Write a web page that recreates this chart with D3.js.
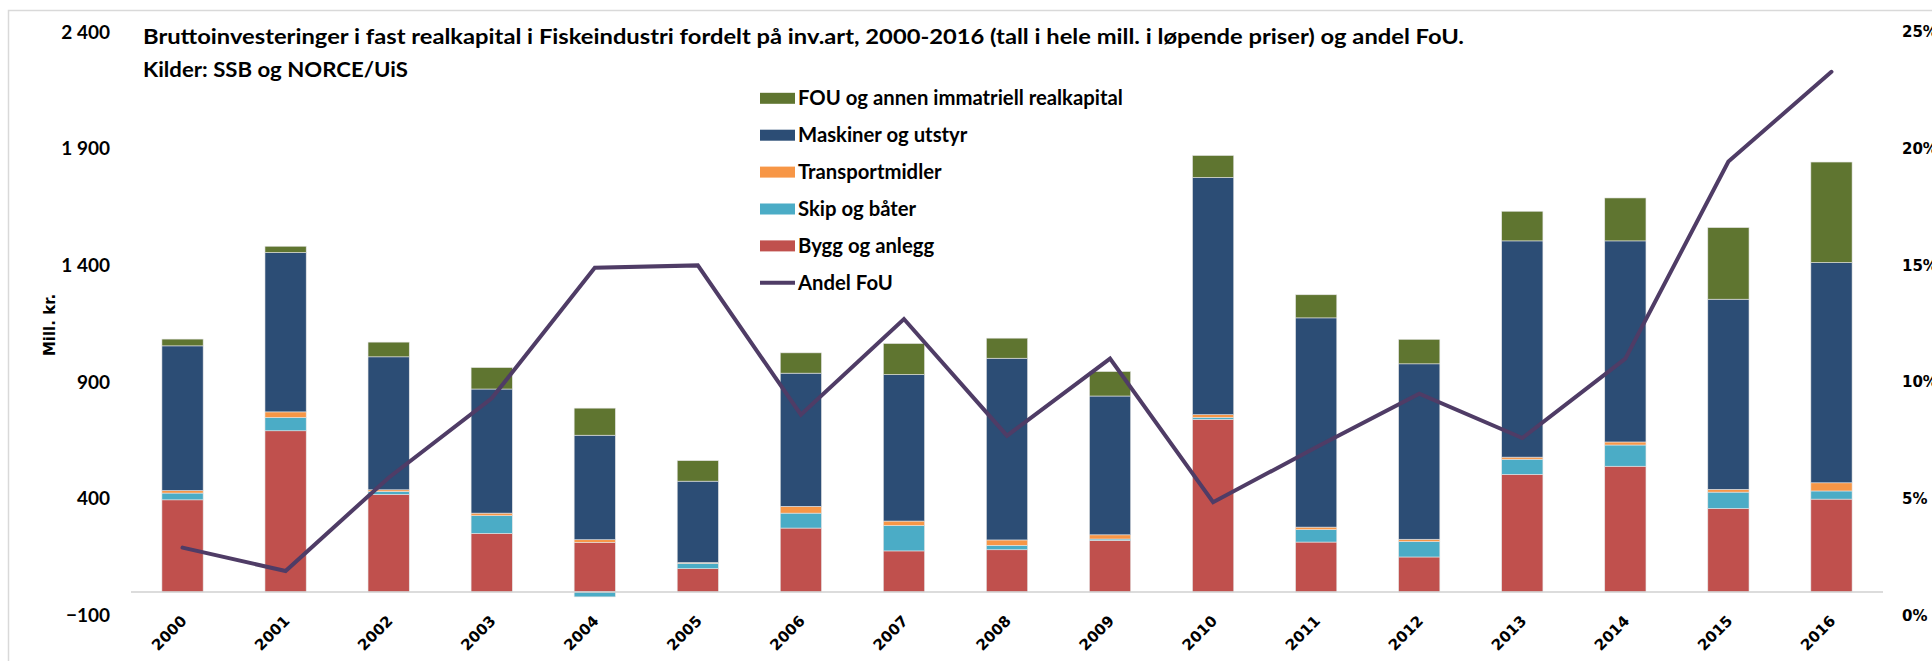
<!DOCTYPE html>
<html>
<head>
<meta charset="utf-8">
<script src="https://d3js.org/d3.v7.min.js"></script>
<style>
  html, body { margin: 0; padding: 0; background: #fff; }
  svg { display: block; }
  .lbl { font-family: "DejaVu Sans", Verdana, sans-serif; font-weight: bold; fill: #000; }
  .cal { font-family: Lato, "Open Sans", sans-serif; font-weight: bold; fill: #000; }
</style>
</head>
<body>
<script>
// data
var years = ["2000", "2001", "2002", "2003", "2004", "2005", "2006", "2007", "2008",
             "2009", "2010", "2011", "2012", "2013", "2014", "2015", "2016"];
var bygg      = [395, 691, 418, 251, 213, 100, 274, 176, 181, 221, 740, 214, 150, 504, 539, 358, 398];
var skip      = [29, 57, 13, 76, -21, 23, 64, 109, 19, 6, 8, 53, 66, 65, 91, 70, 35];
var transport = [11, 24, 7, 11, 11, 3, 29, 19, 23, 18, 12, 11, 10, 9, 13, 12, 35];
var maskiner  = [620, 683, 570, 532, 448, 349, 571, 628, 779, 595, 1017, 897, 752, 927, 862, 815, 944];
var fou       = [29, 27, 63, 92, 116, 88, 87, 133, 86, 105, 94, 99, 105, 127, 184, 307, 431];
var andelFoU  = [2.9, 1.9, 5.9, 9.3, 14.9, 15.0, 8.6, 12.7, 7.7, 11.0, 4.85, 7.2, 9.5, 7.6, 11.0, 19.45, 23.3];

var leftTicks = [-100, 400, 900, 1400, 1900, 2400];
var rightTicks = [0, 5, 10, 15, 20, 25];

var seriesKeys = ["bygg", "skip", "transport", "maskiner", "fou"];
var seriesNames = {
  fou: "FOU og annen immatriell realkapital",
  maskiner: "Maskiner og utstyr",
  transport: "Transportmidler",
  skip: "Skip og båter",
  bygg: "Bygg og anlegg"
};
var colours = {
  bygg: "#c0504d",
  skip: "#4bacc6",
  transport: "#f79646",
  maskiner: "#2c4d75",
  fou: "#5f7530",
  line: "#4f3c66"
};

var title = "Bruttoinvesteringer i fast realkapital i Fiskeindustri fordelt på inv.art, 2000-2016 (tall i hele mill. i løpende priser) og andel FoU.";
var subtitle = "Kilder: SSB og NORCE/UiS";

var W = 1932, H = 661;

var rows = years.map(function(y, i) {
  return { year: y, bygg: bygg[i], skip: skip[i], transport: transport[i],
           maskiner: maskiner[i], fou: fou[i], andel: andelFoU[i] };
});

var svg = d3.select("body").append("svg")
  .attr("width", W)
  .attr("height", H);

svg.append("rect").attr("width", W).attr("height", H).attr("fill", "#fff");

// outer chart frame (only left/top edges visible in the crop)
svg.append("path")
  .attr("d", "M8.5," + H + "V10.5H" + W)
  .attr("fill", "none")
  .attr("stroke", "#d9d9d9")
  .attr("stroke-width", 1.5);

var x = d3.scaleBand()
  .domain(years)
  .range([131, 1883])
  .paddingInner(0.6)
  .paddingOuter(0.3);

var y = d3.scaleLinear()
  .domain([-100, 2400])
  .range([615.3, 32.1]);

var y2 = d3.scaleLinear()
  .domain([0, 25])
  .range([615.3, 32.1]);

var stacked = d3.stack()
  .keys(seriesKeys)
  .offset(d3.stackOffsetDiverging)(rows);

// bars
var layers = svg.append("g").attr("class", "bars")
  .selectAll("g")
  .data(stacked)
  .enter()
  .append("g")
    .attr("fill", function(d) { return colours[d.key]; });

layers.selectAll("rect")
  .data(function(d) { return d; })
  .enter()
  .append("rect")
    .attr("x", function(d) { return x(d.data.year); })
    .attr("width", x.bandwidth())
    .attr("y", function(d) { return y(Math.max(d[0], d[1])); })
    .attr("height", function(d) { return Math.abs(y(d[0]) - y(d[1])); })
    .attr("stroke", "#e4e4e4")
    .attr("stroke-width", 0.6);

// baseline
svg.append("line")
  .attr("x1", 131).attr("x2", 1883)
  .attr("y1", y(0)).attr("y2", y(0))
  .attr("stroke", "#d0d0d0")
  .attr("stroke-width", 1.5);

// left axis
var leftAxis = svg.append("g")
  .attr("transform", "translate(110,0)")
  .call(d3.axisLeft(y).tickValues(leftTicks).tickSize(0).tickPadding(0)
    .tickFormat(function(d) { return d3.format(",")(d).replace(",", " "); }));
leftAxis.select(".domain").remove();
leftAxis.selectAll("text")
  .attr("class", "cal")
  .style("font-size", "19px");

// right axis
var rightAxis = svg.append("g")
  .attr("transform", "translate(1902,0)")
  .call(d3.axisRight(y2).tickValues(rightTicks).tickSize(0).tickPadding(0)
    .tickFormat(function(d) { return d + "%"; }));
rightAxis.select(".domain").remove();
rightAxis.selectAll("text")
  .attr("class", "lbl")
  .style("font-size", "15px");

// x labels, rotated 45 degrees, text end under the bar centre
function labelX(d) { return x(d) + x.bandwidth() / 2 + 5; }
var labelY = y(0) + 30;

svg.append("g").attr("class", "x-labels")
  .selectAll("text")
  .data(years)
  .enter()
  .append("text")
    .attr("class", "lbl")
    .attr("x", labelX)
    .attr("y", labelY)
    .attr("text-anchor", "end")
    .attr("transform", function(d) { return "rotate(-45 " + labelX(d) + " " + labelY + ")"; })
    .style("font-size", "15px")
    .text(function(d) { return d; });

// y axis title
svg.append("text")
  .attr("class", "lbl")
  .attr("transform", "translate(50,325) rotate(-90)")
  .attr("text-anchor", "middle")
  .attr("dy", "0.35em")
  .style("font-size", "15px")
  .text("Mill. kr.");

// line on right axis
var line = d3.line()
  .x(function(d) { return x(d.year) + x.bandwidth() / 2; })
  .y(function(d) { return y2(d.andel); });

svg.append("path")
  .datum(rows)
  .attr("d", line)
  .attr("fill", "none")
  .attr("stroke", colours.line)
  .attr("stroke-width", 4)
  .attr("stroke-linejoin", "miter")
  .attr("stroke-linecap", "round");

// titles
svg.append("text")
  .attr("class", "cal")
  .attr("x", 143).attr("y", 44)
  .style("font-size", "20px")
  .attr("textLength", 1321)
  .attr("lengthAdjust", "spacingAndGlyphs")
  .text(title);

svg.append("text")
  .attr("class", "cal")
  .attr("x", 143).attr("y", 77)
  .style("font-size", "20px")
  .attr("textLength", 265)
  .attr("lengthAdjust", "spacingAndGlyphs")
  .text(subtitle);

// legend
var legendItems = ["fou", "maskiner", "transport", "skip", "bygg", "line"];
var legend = svg.append("g").attr("class", "legend");
legendItems.forEach(function(k, i) {
  var cy = 98.3 + i * 36.9;
  if (k === "line") {
    legend.append("line")
      .attr("x1", 760).attr("x2", 795)
      .attr("y1", cy).attr("y2", cy)
      .attr("stroke", colours.line)
      .attr("stroke-width", 4);
  } else {
    legend.append("rect")
      .attr("x", 760).attr("y", cy - 5.5)
      .attr("width", 35).attr("height", 11)
      .attr("fill", colours[k]);
  }
  legend.append("text")
    .attr("class", "cal")
    .attr("x", 798).attr("y", cy)
    .attr("dy", "0.35em")
    .style("font-size", "20.3px")
    .text(k === "line" ? "Andel FoU" : seriesNames[k]);
});
</script>
</body>
</html>
